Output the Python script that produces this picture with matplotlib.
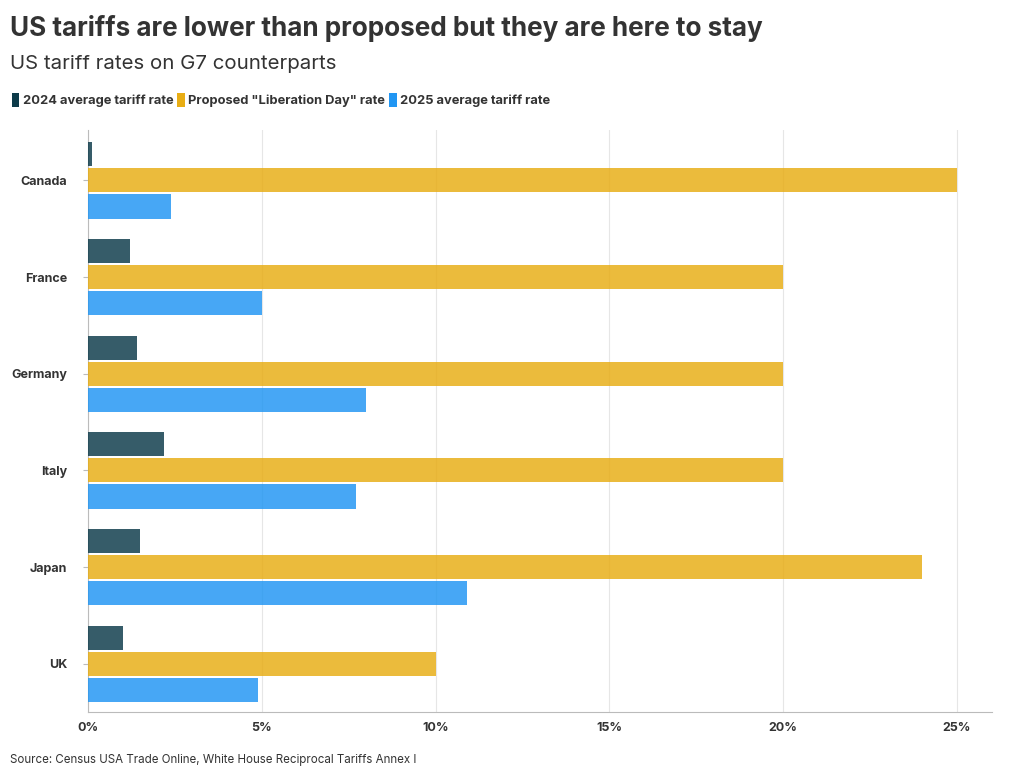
import numpy as np
import matplotlib.pyplot as plt
from matplotlib.patches import Patch
from matplotlib.ticker import FuncFormatter

plt.rcParams['font.family'] = ['Inter', 'DejaVu Sans']

countries = ["Canada", "France", "Germany", "Italy", "Japan", "UK"]
rate_2024 = [0.1, 1.2, 1.4, 2.2, 1.5, 1.0]
proposed = [25, 20, 20, 20, 24, 10]
rate_2025 = [2.4, 5.0, 8.0, 7.7, 10.9, 4.9]

series_names = ["2024 average tariff rate", 'Proposed "Liberation Day" rate', "2025 average tariff rate"]
colors = ["#0d3b4a", "#e8ad14", "#2196f3"]

fig = plt.figure(figsize=(10.2, 7.78), dpi=100)
ax = fig.add_axes([0.0863, 0.0848, 0.886, 0.748])

y = np.arange(len(countries))
h = 0.25
off = 0.27
for vals, dy, c in zip([rate_2024, proposed, rate_2025], [-off, 0, off], colors):
    ax.barh(y + dy, vals, height=h, color=c, alpha=0.83, zorder=3)

ax.set_yticks(y)
ax.set_yticklabels(countries, fontweight='bold', fontsize=9, color='#333333')
ax.set_ylim(len(countries) - 0.5, -0.52)
ax.set_xlim(0, 26)
ax.set_xticks([0, 5, 10, 15, 20, 25])
ax.xaxis.set_major_formatter(FuncFormatter(lambda v, p: f"{v:.0f}%"))
for lab in ax.get_xticklabels():
    lab.set_fontweight('bold')
ax.tick_params(axis='x', length=0, labelsize=9, labelcolor='#333333', pad=7)
ax.tick_params(axis='y', length=3.5, color='#bbbbbb', pad=11.5)
ax.grid(axis='x', color='#e6e6e6', linewidth=0.8, zorder=0)
for s in ['top', 'right']:
    ax.spines[s].set_visible(False)
for s in ['left', 'bottom']:
    ax.spines[s].set_color('#bbbbbb')

fig.text(0.01, 0.964, "US tariffs are lower than proposed but they are here to stay",
         fontsize=18.8, fontweight='bold', color='#333333', va='center')
fig.text(0.01, 0.918, "US tariff rates on G7 counterparts", fontsize=14.7, color='#333333', va='center')

handles = [Patch(facecolor=c, edgecolor='none') for c in colors]
leg = fig.legend(handles, series_names, loc='center left', bbox_to_anchor=(0.0, 0.871),
                 ncol=3, frameon=False, handlelength=0.6, handleheight=1.2,
                 handletextpad=0.25, columnspacing=0.3,
                 prop={'weight': 'bold', 'size': 9.3})
for t in leg.get_texts():
    t.set_color('#333333')

fig.text(0.01, 0.023, "Source: Census USA Trade Online, White House Reciprocal Tariffs Annex I",
         fontsize=8.3, color='#333333', va='center')

fig.savefig("out.png", dpi=100)
